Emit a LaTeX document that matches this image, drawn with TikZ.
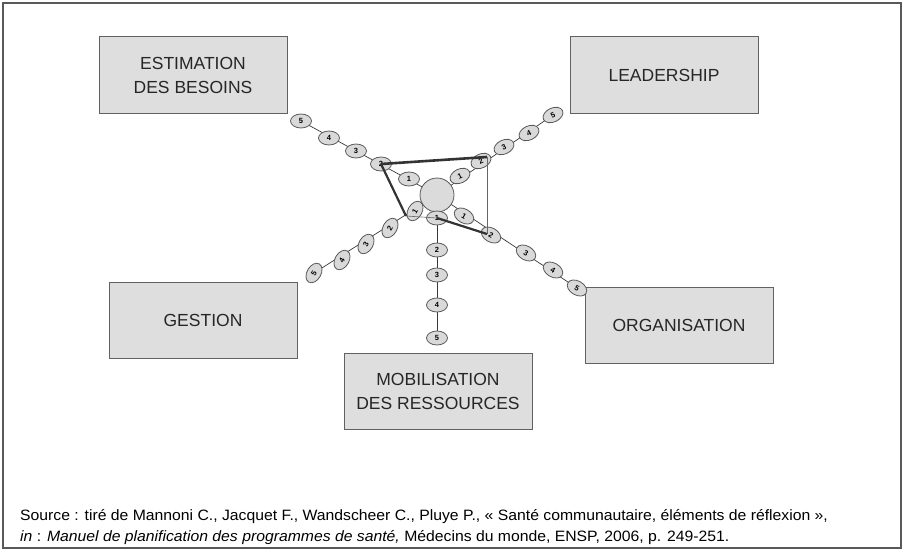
\documentclass[tikz,border=0pt]{standalone}
\usepackage{fontspec}
\setmainfont{Liberation Sans}
\newfontfamily\notefont[FakeStretch=1.05]{Liberation Sans}
\usetikzlibrary{shapes.geometric}
\pgfdeclarelayer{bg}
\pgfsetlayers{bg,main}
\definecolor{boxfill}{gray}{0.87}
\definecolor{boxline}{gray}{0.38}
\definecolor{dotfill}{gray}{0.85}
\definecolor{dotline}{gray}{0.35}
\definecolor{armline}{gray}{0.22}
\definecolor{hubfill}{gray}{0.86}
\begin{document}
\begin{tikzpicture}[x=1pt,y=-1pt,
  pillar/.style={draw=boxline, line width=1pt, fill=boxfill,
    minimum width=188pt, minimum height=76pt, inner sep=0pt, align=center,
    font=\fontsize{17.5}{24}\selectfont, text=black!85},
  dot/.style={ellipse, draw=dotline, line width=0.8pt, fill=dotfill,
    minimum width=21pt, minimum height=14pt, inner sep=0pt,
    font=\bfseries\fontsize{7.5}{7.5}\selectfont},
  arm/.style={draw=armline, line width=0.7pt},
  heavy/.style={draw=black!80, line width=2.2pt},
  light/.style={draw=black!60, line width=0.6pt},
  note/.style={anchor=base west, inner sep=0pt, font=\notefont\fontsize{15}{18}\selectfont}]
\useasboundingbox (0,0) rectangle (904,551);
\draw[line width=1.5pt, draw=black!65] (3,3) rectangle (901,548);

% the five domains
\node[pillar] (est)  at (193,75)  {ESTIMATION\\DES BESOINS};
\node[pillar] (lead) at (664,75)  {LEADERSHIP};
\node[pillar] (gest) at (203,320) {GESTION};
\node[pillar] (org)  at (679,325) {ORGANISATION};
\node[pillar] (mob)  at (438,391) {MOBILISATION\\DES RESSOURCES};

% hub
\node[circle, draw=gray!70!black, fill=hubfill, line width=0.8pt, minimum size=34pt, inner sep=0pt] (hub) at (437,195) {};

% scale points, upper-left arm
\node[dot] (a1) at (409,179) {1};
\node[dot] (a2) at (381,164) {2};
\node[dot] (a3) at (356,151) {3};
\node[dot] (a4) at (329,138) {4};
\node[dot] (a5) at (301,121) {5};
% upper-right arm
\node[dot, rotate=25] (b1) at (460,176) {1};
\node[dot, rotate=25] (b2) at (481,161) {2};
\node[dot, rotate=25] (b3) at (504,147) {3};
\node[dot, rotate=25] (b4) at (529,133) {4};
\node[dot, rotate=25] (b5) at (553,115) {5};
% lower-left arm
\node[dot, rotate=60] (c1) at (415,211) {1};
\node[dot, rotate=60] (c2) at (390,228) {2};
\node[dot, rotate=60] (c3) at (366,244) {3};
\node[dot, rotate=60] (c4) at (342,260) {4};
\node[dot, rotate=60] (c5) at (314,273) {5};
% lower arm
\node[dot] (d1) at (437,218) {1};
\node[dot] (d2) at (437,250) {2};
\node[dot] (d3) at (437,275) {3};
\node[dot] (d4) at (437,305) {4};
\node[dot] (d5) at (437,338) {5};
% lower-right arm
\node[dot, rotate=-30] (e1) at (464,216) {1};
\node[dot, rotate=-30] (e2) at (491,235) {2};
\node[dot, rotate=-30] (e3) at (526,253) {3};
\node[dot, rotate=-30] (e4) at (553,270) {4};
\node[dot, rotate=-30] (e5) at (577,288) {5};

% arms behind the points
\begin{pgfonlayer}{bg}
  \draw[arm] (hub.center) -- (a5.center);
  \draw[arm] (hub.center) -- (b5.center);
  \draw[arm] (hub.center) -- (c5.center);
  \draw[arm] (hub.center) -- (d5.center);
  \draw[arm] (hub.center) -- (e5.center);
\end{pgfonlayer}

% profile polygon
\coordinate (r2) at (487,157);
\coordinate (r3) at (487,234);
\coordinate (r5) at (406,216);
\draw[heavy, line width=2.6pt] (a2.center) -- (r2);
\draw[light] (r2) -- (r3);
\draw[heavy] (d1.center) -- (r3);
\draw[light] (d1.center) -- (r5);
\draw[heavy] (r5) -- (a2.center);

% source
\node[note] (src1) at (20,520)
  {Source : tiré de Mannoni C., Jacquet F., Wandscheer C., Pluye P., «~Santé communautaire, éléments de réflexion~»,};
\node[note] (src2) at (20,541)
  {\textit{in} : \textit{Manuel de planification des programmes de santé,} Médecins du monde, ENSP, 2006, p. 249-251.};
\end{tikzpicture}
\end{document}
